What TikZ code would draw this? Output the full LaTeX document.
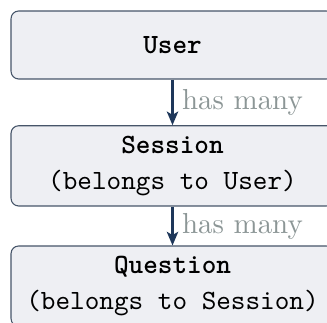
\documentclass[tikz,border=0pt]{standalone}
\usetikzlibrary{arrows.meta}
\definecolor{boxfill}{RGB}{238,239,243}
\definecolor{boxdraw}{RGB}{70,85,105}
\definecolor{arrowc}{RGB}{30,55,90}
\definecolor{labelc}{RGB}{140,150,150}
\begin{document}
\begin{tikzpicture}[
  entity/.style={draw=boxdraw, fill=boxfill, line width=0.4pt, rounded corners=2.8pt,
    minimum width=118.3pt, align=center, inner sep=0pt,
    font=\fontsize{10.2pt}{12.2pt}\selectfont\ttfamily},
  rel/.style={draw=arrowc, line width=0.8pt, -{Stealth[length=5pt,width=4.2pt,inset=1.2pt]}},
  lbl/.style={text=labelc, font=\fontsize{10.6pt}{12.6pt}\selectfont\rmfamily, right, inner sep=3.1pt}]
\useasboundingbox (0,0) rectangle (119.78pt,-117.95pt);
\node[entity, minimum height=24.9pt] (user) at (63.19pt,-16.48pt) {{\bfseries User}};
\node[entity, minimum height=29.4pt] (session) at (63.19pt,-60.75pt)
  {{\bfseries Session}\\[1.2pt] (belongs to User)};
\node[entity, minimum height=29.4pt] (question) at (63.19pt,-104.8pt)
  {{\bfseries Question}\\[1.2pt] (belongs to Session)};
\draw[rel] (user) -- node[lbl] {has many} (session);
\draw[rel] (session) -- node[lbl] {has many} (question);
\end{tikzpicture}
\end{document}
